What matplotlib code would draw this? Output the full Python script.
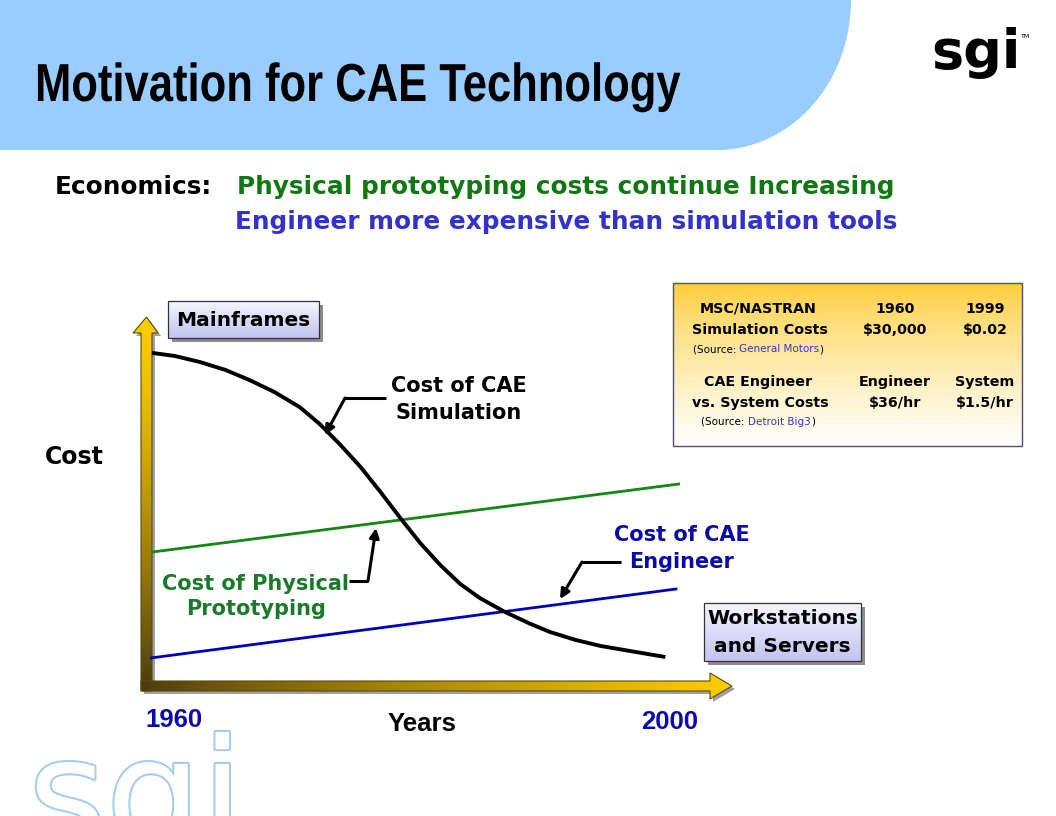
import matplotlib
matplotlib.use('Agg')
import matplotlib.pyplot as plt
import matplotlib.patheffects as pe
from matplotlib.patches import Polygon, Rectangle
from matplotlib.transforms import Affine2D
import numpy as np

W, H = 1056, 816

# ---- chart data (years vs. relative cost) ----
sim_years = [1960.15, 1961.9, 1963.8, 1965.7, 1967.5, 1969.4, 1971.3, 1972.8,
             1974.3, 1975.9, 1977.4, 1978.9, 1980.4, 1981.9, 1983.4, 1984.9,
             1986.8, 1988.7, 1990.2, 1992.1, 1994.0, 1996.2, 1998.9]
sim_cost = [93.6, 92.7, 91.0, 88.8, 86.0, 82.6, 78.4, 73.7,
            68.1, 61.6, 54.6, 47.3, 40.3, 34.2, 28.9, 24.9,
            21.0, 17.7, 15.4, 13.2, 11.5, 10.1, 8.4]
proto_years = [1960.15, 2000.0]
proto_cost = [37.8, 56.9]
eng_years = [1960.0, 1999.8]
eng_cost = [8.1, 27.5]
year_labels = ['1960', '2000']

# ---- table contents ----
table_heads = [('MSC/NASTRAN', 'Simulation Costs'), ('CAE Engineer', 'vs. System Costs')]
table_sources = ['General Motors', 'Detroit Big3']
table_col1 = [('1960', '$30,000'), ('Engineer', '$36/hr')]
table_col2 = [('1999', '$0.02'), ('System', '$1.5/hr')]

BOLD = dict(family='DejaVu Sans', weight='bold')
ARIAL = dict(family=['Liberation Sans', 'DejaVu Sans'], weight='bold')


class HScale(pe.AbstractPathEffect):
    """squeeze text horizontally about x0 (display px) - no narrow font here"""

    def __init__(self, sx, x0):
        super().__init__()
        self._sx = sx
        self._x0 = x0

    def draw_path(self, renderer, gc, tpath, affine, rgbFace=None):
        squeeze = Affine2D().translate(-self._x0, 0).scale(self._sx, 1).translate(self._x0, 0)
        renderer.draw_path(gc, tpath, affine + squeeze, rgbFace)


def hex2rgb(c):
    c = c.lstrip('#')
    return np.array([int(c[i:i + 2], 16) / 255 for i in (0, 2, 4)])


def grad_fill(ax, verts, c0, c1, direction='v', zorder=2, gamma=1.0):
    poly = Polygon(verts, closed=True, facecolor='none', edgecolor='none', zorder=zorder)
    ax.add_patch(poly)
    xs = [v[0] for v in verts]
    ys = [v[1] for v in verts]
    t = np.linspace(0, 1, 256) ** gamma
    a, b = hex2rgb(c0), hex2rgb(c1)
    cols = a[None, :] + (b - a)[None, :] * t[:, None]
    if direction == 'v':
        img = cols[:, None, :]
    else:
        img = cols[None, :, :]
    im = ax.imshow(img, extent=(min(xs), max(xs), max(ys), min(ys)),
                   aspect='auto', zorder=zorder, interpolation='bilinear')
    im.set_clip_path(poly)
    return poly


fig = plt.figure(figsize=(W / 100, H / 100), dpi=100)
bg = fig.add_axes([0, 0, 1, 1])
bg.set_xlim(0, W)
bg.set_ylim(H, 0)
bg.axis('off')

# header band with rounded right end
th = np.linspace(0, np.pi / 2, 60)
arc = [(717 + 134 * np.cos(a), 150 * np.sin(a)) for a in th]
bg.add_patch(Polygon([(0, 0)] + arc + [(0, 150)], closed=True,
                     facecolor='#99ccff', edgecolor='none', zorder=1))

bg.text(35, 101, 'Motivation for CAE Technology', fontsize=38.5, color='black',
        va='baseline', ha='left', zorder=5, path_effects=[HScale(0.815, 35)], **ARIAL)

# sgi logo top right
bg.text(931, 68, 'sgi', fontsize=39, color='black', va='baseline', ha='left',
        family='DejaVu Sans', weight='bold', zorder=5)
bg.text(1021, 38, 'TM', fontsize=4.5, color='black', va='baseline', ha='left', zorder=5)

# watermark bottom left
bg.text(28, 846, 'sgi', fontsize=108, color='white', va='baseline', ha='left',
        family='DejaVu Sans', zorder=0,
        path_effects=[pe.Stroke(linewidth=3, foreground='#a8ccee'), pe.Normal()])

# economics lines
bg.text(55, 194, 'Economics:', fontsize=17.8, color='black', va='baseline', **BOLD)
bg.text(237, 194, 'Physical prototyping costs continue Increasing', fontsize=17.8,
        color='#117711', va='baseline', **BOLD)
bg.text(235, 229, 'Engineer more expensive than simulation tools', fontsize=17.8,
        color='#3333cc', va='baseline', **BOLD)

# ---- gradient axis arrows ----
v_arrow = [(141, 691), (141, 333), (133, 333), (146.5, 317), (158, 333),
           (152, 333), (152, 691)]
h_arrow = [(141, 681), (710, 681), (710, 673), (732, 686), (710, 699),
           (710, 691), (141, 691)]
for verts in (v_arrow, h_arrow):
    bg.add_patch(Polygon([(x + 3, y + 3) for x, y in verts], closed=True,
                         facecolor='#a0a0a0', edgecolor='none', zorder=2))
grad_fill(bg, v_arrow, '#ffcc00', '#4a3a10', 'v', zorder=3, gamma=1.4)
grad_fill(bg, h_arrow, '#4a3a10', '#ffcc00', 'h', zorder=3, gamma=0.8)
for verts in (v_arrow, h_arrow):
    bg.add_patch(Polygon(verts, closed=True, facecolor='none',
                         edgecolor='#5a4a10', linewidth=0.8, zorder=4))


# ---- labelled boxes ----
def shadow_box(x0, y0, x1, y1):
    bg.add_patch(Rectangle((x0 + 4, y0 + 4), x1 - x0, y1 - y0,
                           facecolor='#8c8c8c', edgecolor='none', zorder=2))
    grad_fill(bg, [(x0, y0), (x1, y0), (x1, y1), (x0, y1)],
              '#f6f6ff', '#c2c2f0', 'v', zorder=3)
    bg.add_patch(Rectangle((x0, y0), x1 - x0, y1 - y0, facecolor='none',
                           edgecolor='#333333', linewidth=0.9, zorder=4))


shadow_box(168, 301, 319, 338)
bg.text(243.5, 320, 'Mainframes', fontsize=14.5, color='black', ha='center',
        va='center', zorder=5, **BOLD)
shadow_box(704, 603, 861, 661)
bg.text(782.5, 618, 'Workstations', fontsize=14.5, color='black', ha='center',
        va='center', zorder=5, **BOLD)
bg.text(782.5, 647, 'and Servers', fontsize=14.5, color='black', ha='center',
        va='center', zorder=5, **BOLD)

# ---- axis texts ----
bg.text(45, 464, 'Cost', fontsize=17, color='black', va='baseline', **BOLD)
bg.text(174, 727, year_labels[0], fontsize=18.5, color='#0a0ab4', ha='center',
        va='baseline', **ARIAL)
bg.text(670, 729, year_labels[1], fontsize=18.5, color='#0a0ab4', ha='center',
        va='baseline', **ARIAL)
bg.text(422, 731, 'Years', fontsize=18.5, color='black', ha='center',
        va='baseline', **ARIAL)

# ---- curve labels with callouts ----
bg.text(459, 392, 'Cost of CAE', fontsize=15, ha='center', va='baseline', color='black', **BOLD)
bg.text(459, 419, 'Simulation', fontsize=15, ha='center', va='baseline', color='black', **BOLD)
bg.text(256, 590, 'Cost of Physical', fontsize=15, ha='center', va='baseline', color='#1a7a2a', **BOLD)
bg.text(256, 615, 'Prototyping', fontsize=15, ha='center', va='baseline', color='#1a7a2a', **BOLD)
bg.text(682, 541, 'Cost of CAE', fontsize=15, ha='center', va='baseline', color='#0a0aaa', **BOLD)
bg.text(682, 568, 'Engineer', fontsize=15, ha='center', va='baseline', color='#0a0aaa', **BOLD)

callouts = [((386, 398), (345, 398), (325, 435)),
            ((349, 581), (368, 581), (376, 528)),
            ((621, 562), (582, 562), (560, 599))]
for start, knee, tip in callouts:
    bg.plot([start[0], knee[0]], [start[1], knee[1]], color='black', lw=2.2,
            solid_capstyle='butt', zorder=5)
    bg.annotate('', xy=tip, xytext=knee,
                arrowprops=dict(arrowstyle='-|>', color='black', lw=2.2,
                                mutation_scale=14, shrinkA=0, shrinkB=0), zorder=5)

# ---- cost table ----
tx0, ty0, tx1, ty1 = 673, 283, 1022, 446
grad_fill(bg, [(tx0, ty0), (tx1, ty0), (tx1, ty1), (tx0, ty1)],
          '#ffcc33', '#ffffff', 'v', zorder=2, gamma=0.75)
bg.add_patch(Rectangle((tx0, ty0), tx1 - tx0, ty1 - ty0, facecolor='none',
                       edgecolor='#4d4d80', linewidth=1.0, zorder=3))

renderer = fig.canvas.get_renderer()


def source_line(xc, y, name):
    parts = [('(Source: ', 'black'), (name, '#3333cc'), (')', 'black')]
    texts = [bg.text(0, y, s, fontsize=7.5, color=c, va='baseline', ha='left',
                     family='DejaVu Sans', zorder=5) for s, c in parts]
    widths = [t.get_window_extent(renderer).width for t in texts]
    x = xc - sum(widths) / 2
    for t, w in zip(texts, widths):
        t.set_x(x)
        x += w


row_base = [313, 386]
for i in range(2):
    yb = row_base[i]
    bg.text(758, yb, table_heads[i][0], fontsize=10.3, ha='center', va='baseline',
            color='black', zorder=5, **BOLD)
    bg.text(760, yb + 21, table_heads[i][1], fontsize=10.3, ha='center', va='baseline',
            color='black', zorder=5, **BOLD)
    source_line(758, yb + 39, table_sources[i])
    bg.text(895, yb, table_col1[i][0], fontsize=10.3, ha='center', va='baseline',
            color='black', zorder=5, **BOLD)
    bg.text(895, yb + 21, table_col1[i][1], fontsize=10.3, ha='center', va='baseline',
            color='black', zorder=5, **BOLD)
    bg.text(985, yb, table_col2[i][0], fontsize=10.3, ha='center', va='baseline',
            color='black', zorder=5, **BOLD)
    bg.text(985, yb + 21, table_col2[i][1], fontsize=10.3, ha='center', va='baseline',
            color='black', zorder=5, **BOLD)

bg.set_xlim(0, W)
bg.set_ylim(H, 0)

# ---- chart area: years on x, relative cost on y ----
ax = fig.add_axes([150 / W, (H - 687) / H, 530 / W, 357 / H])
ax.set_xlim(1960, 2000)
ax.set_ylim(0, 100)
ax.axis('off')
ax.patch.set_alpha(0)
ax.plot(proto_years, proto_cost, color='#118811', lw=2.0, solid_capstyle='butt')
ax.plot(eng_years, eng_cost, color='#0000bb', lw=2.0, solid_capstyle='butt')
ax.plot(sim_years, sim_cost, color='black', lw=2.8, solid_joinstyle='round',
        solid_capstyle='butt')

fig.savefig('out.png', dpi=100)
